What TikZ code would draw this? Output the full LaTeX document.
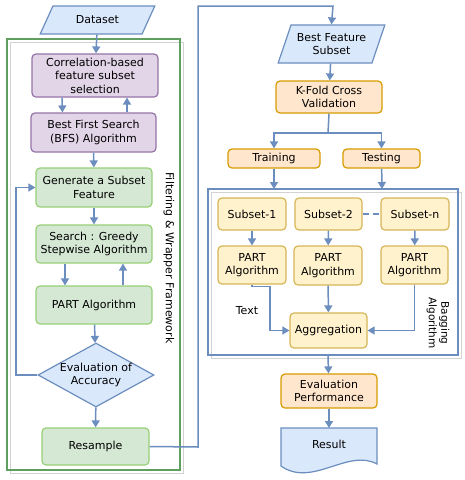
\documentclass[tikz,border=0pt]{standalone}
\usepackage{fontspec}
\setmainfont{DejaVu Sans}
\usetikzlibrary{arrows.meta,shapes.geometric}

\definecolor{blueline}{HTML}{6C8EBF}
\definecolor{bluefill}{HTML}{DAE8FC}
\definecolor{purpleline}{HTML}{9673A6}
\definecolor{purplefill}{HTML}{E1D5E7}
\definecolor{greenline}{HTML}{97D077}
\definecolor{greenfill}{HTML}{D5E8D4}
\definecolor{frameline}{HTML}{5F9F5F}
\definecolor{orangeline}{HTML}{D79B00}
\definecolor{orangefill}{HTML}{FFE6CC}
\definecolor{yellowline}{HTML}{D6B656}
\definecolor{yellowfill}{HTML}{FFF2CC}

\begin{document}
\begin{tikzpicture}[x=1pt,y=-1pt,
  font=\fontsize{11}{13.5}\selectfont,
  box/.style={rounded corners=4pt,line width=1.2pt,align=center,inner sep=1pt},
  purplebox/.style={box,draw=purpleline,fill=purplefill},
  greenbox/.style={box,draw=greenline,fill=greenfill},
  orangebox/.style={box,draw=orangeline,fill=orangefill},
  yellowbox/.style={box,draw=yellowline,fill=yellowfill},
  iobox/.style={trapezium,trapezium stretches=true,
    draw=blueline,fill=bluefill,line width=1.2pt,align=center,inner sep=0pt},
  flow/.style={draw=blueline,line width=1.5pt,-{Triangle[length=7pt,width=8pt]}},
  link/.style={draw=blueline,line width=1.5pt}]

  \useasboundingbox (0,0) rectangle (464,480);

  % left frame: filtering & wrapper
  \draw[gray!35,line width=1pt] (10,42) rectangle (183,473);
  \draw[frameline,line width=1.2pt] (7,39) rectangle (180,470);
  \node[rotate=-90] (fwlabel) at (169,258) {Filtering \& Wrapper Framework};

  \node[iobox,trapezium left angle=53,trapezium right angle=127,
    minimum width=115,minimum height=28] (dataset) at (97.5,20) {Dataset};

  \node[purplebox,minimum width=126,minimum height=43] (cfs) at (95,75.5)
    {Correlation-based\\feature subset\\selection};
  \node[purplebox,minimum width=125,minimum height=39] (bfs) at (93.5,132.5)
    {Best First Search\\(BFS) Algorithm};
  \node[greenbox,minimum width=116,minimum height=39] (gen) at (94,187.5)
    {Generate a Subset\\Feature};
  \node[greenbox,minimum width=116,minimum height=38] (greedy) at (94,244)
    {Search : Greedy\\Stepwise Algorithm};
  \node[greenbox,minimum width=116,minimum height=38] (part) at (94,305)
    {PART Algorithm};
  \node[diamond,draw=blueline,fill=bluefill,line width=1.2pt,aspect=1.8,
    inner sep=-2pt,minimum width=116,minimum height=64,align=center] (evalacc) at (96,375)
    {Evaluation of\\Accuracy};
  \node[greenbox,minimum width=107,minimum height=37] (resample) at (95.5,446.5)
    {Resample};

  \draw[flow] (dataset) -- (cfs);
  \draw[flow] ([xshift=-33pt]cfs.south) -- ([xshift=-31pt]bfs.north);
  \draw[flow] ([xshift=33.5pt]bfs.north) -- ([xshift=32pt]cfs.south);
  \draw[flow] (bfs) -- (gen);
  \draw[flow] (gen) -- (greedy);
  \draw[flow] ([xshift=-29pt]greedy.south) -- ([xshift=-29pt]part.north);
  \draw[flow] ([xshift=29pt]part.north) -- ([xshift=29pt]greedy.south);
  \draw[flow] (part) -- (evalacc);
  \draw[flow] (evalacc) -- (resample);
  \draw[flow] (evalacc.west) -- (16,375) |- (gen.west);

  % right side
  \node[iobox,trapezium left angle=63,trapezium right angle=117,
    minimum width=107,minimum height=38] (best) at (331.5,44)
    {Best Feature\\Subset};
  \node[orangebox,minimum width=106,minimum height=32] (kfold) at (329,97)
    {K-Fold Cross\\Validation};
  \node[orangebox,minimum width=92,minimum height=19] (train) at (274,158.5) {Training};
  \node[orangebox,minimum width=77,minimum height=19] (test) at (381.5,158.5) {Testing};

  \draw[flow] (resample.east) -- (198,447) |- (333,6) -- (best.north);
  \draw[flow] (best) -- (kfold);
  \coordinate (split) at (328,133);
  \draw[link] (kfold.south) -- (split);
  \draw[flow] (split) -| (train.north);
  \draw[flow] (split) -| (test.north);

  % bagging frame
  \draw[gray!35,line width=1pt] (211,192) rectangle (461,358);
  \draw[blueline,line width=1.3pt] (208,189) rectangle (458,355);
  \coordinate (bagtop1) at (274,189);
  \coordinate (bagtop2) at (382,189);
  \coordinate (bagbot) at (328,355);
  \node[rotate=-90,align=center,font=\fontsize{10.5}{12.5}\selectfont] (baglabel) at (438,323)
    {Bagging\\Algorithm};
  \draw[flow] (train) -- (bagtop1);
  \draw[flow] (test) -- (bagtop2);

  \node[yellowbox,minimum width=68,minimum height=32] (sub1) at (252,214) {Subset-1};
  \node[yellowbox,minimum width=67,minimum height=32] (sub2) at (328.5,214) {Subset-2};
  \node[yellowbox,minimum width=68,minimum height=32] (subn) at (415,214) {Subset-n};
  \node[yellowbox,minimum width=68,minimum height=38] (part1) at (252,265) {PART\\Algorithm};
  \node[yellowbox,minimum width=68,minimum height=39] (part2) at (328,265.5) {PART\\Algorithm};
  \node[yellowbox,minimum width=67,minimum height=38] (partn) at (414.5,265) {PART\\Algorithm};
  \node[yellowbox,minimum width=77,minimum height=35] (aggr) at (328.5,330.5) {Aggregation};
  \node (txt) at (247,311) {Text};

  \draw[link,dash pattern=on 6pt off 4pt] (sub2) -- (subn);
  \draw[flow] (sub1) -- (part1);
  \draw[flow] (sub2) -- (part2);
  \draw[flow] (subn) -- (partn);
  \draw[flow] (part1.south) -- ++(0,2) -| (270,330.5) -- (aggr.west);
  \draw[flow] (part2) -- (aggr);
  \draw[flow] (partn.south) |- (aggr.east);

  \node[orangebox,minimum width=96,minimum height=34] (evalperf) at (329,391)
    {Evaluation\\Performance};
  \draw[flow] (bagbot) -- (evalperf);

  % result document
  \draw[blueline,fill=bluefill,line width=1.2pt] (281,428) -- (377,428) -- (377,464)
    .. controls (348,448) and (312,488) .. (281,466) -- cycle;
  \coordinate (resulttop) at (329,428);
  \node (result) at (329,444) {Result};
  \draw[flow] (evalperf) -- (resulttop);

\end{tikzpicture}
\end{document}
